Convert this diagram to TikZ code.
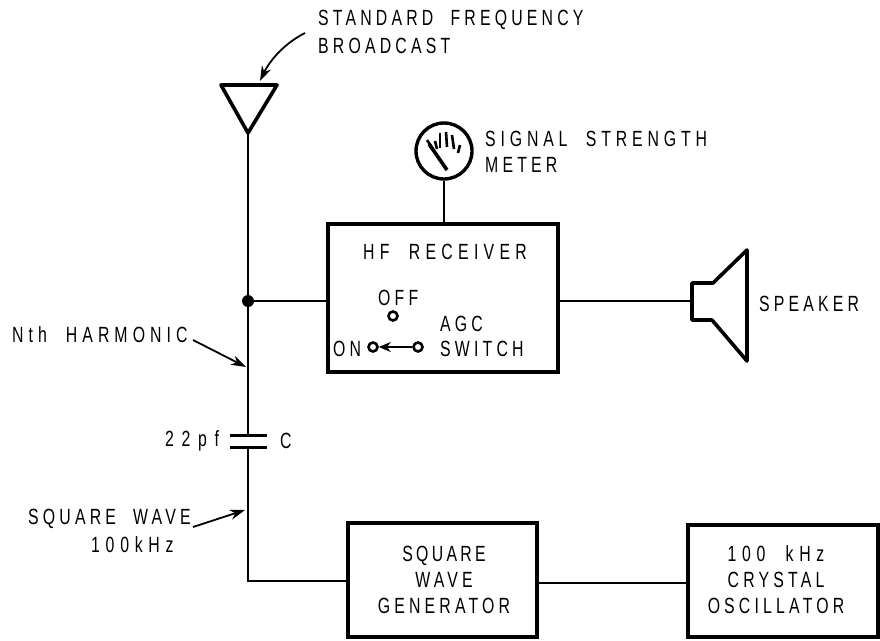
\documentclass[tikz,border=0pt]{standalone}
\usepackage{fontspec}
\setmainfont{Liberation Sans}[FakeStretch=0.72,LetterSpace=19,WordSpace=2]
\usetikzlibrary{arrows.meta,calc}
\tikzset{
  blk/.style={draw,line width=3.6pt,rectangle,inner sep=0pt,align=center,font=\lab,text=black},
  wire/.style={line width=2.4pt},
  lbl/.style={inner sep=0pt,font=\lab,align=left,text=black},
  ptr/.style={line width=1.8pt,-{Stealth[length=15pt,width=10pt]}},
  term/.style={circle,draw,line width=2.6pt,minimum size=9pt,inner sep=0pt,fill=white},
  thick2/.style={line width=3.6pt,line join=round},
}
\newcommand{\lab}{\fontsize{22}{26}\selectfont}
\newcommand{\lsp}[2]{{\addfontfeature{LetterSpace=#1}#2}}
\begin{document}
\begin{tikzpicture}[x=1pt,y=-1pt]
\useasboundingbox (0,0) rectangle (880,640);
% blocks
\node[blk,minimum width=230pt,minimum height=148pt] (rx) at (443,298) {};
\node[blk,minimum width=189pt,minimum height=114pt] (gen) at (442.5,580) {};
\node[blk,minimum width=190pt,minimum height=112pt] (osc) at (783,581) {};
\node[lbl,align=center] (gent) at (444,580) {\lsp{15}{SQUARE}\\WAVE\\GENERATOR};
\node[lbl,align=center] (osct) at (776,580) {\lsp{26}{100 kHz}\\CRYSTAL\\OSCILLATOR};
\node[lbl] (rxt) at (445,252) {\lsp{24}{HF RECEIVER}};
% antenna
\coordinate (aL) at (221,85);
\coordinate (aR) at (277,85);
\coordinate (aB) at (248,133);
\draw[thick2] (aL) -- (aR) -- (aB) -- cycle;
% junction and capacitor
\coordinate (j) at (248,301);
\coordinate (c1) at (248,435);
\coordinate (c2) at (248,447);
\coordinate (cor) at (248,581);
\coordinate (lnk) at (600,583);
\draw[wire] (aB) -- (j) -- (c1);
\draw[wire] (c2) -- (cor) -- (cor -| gen.west);
\fill (j) circle (6pt);
\draw[line width=3pt] (230,435) -- (267,435);
\draw[line width=3pt] (230,447) -- (267,447);
\draw[wire] (j) -- (j -| rx.west);
\draw[wire] (gen.east |- lnk) -- (osc.west |- lnk);
% meter
\node[circle,draw,line width=3.4pt,minimum size=56pt,inner sep=0pt] (m) at (444,151) {};
\draw[wire] (m.south) -- (m.south |- rx.north);
\draw[line width=3.6pt] (429,144) -- (447,170);
\draw[line width=2.6pt] (427,140) -- (433,149);
\draw[line width=2.6pt] (435,141) -- (437,149);
\draw[line width=2.6pt] (440,133) -- (440,148);
\draw[line width=2.6pt] (446,132) -- (447,147);
\draw[line width=2.6pt] (452,135) -- (454,149);
\draw[line width=2.6pt] (460,145) -- (458,153);
% speaker
\coordinate (s1) at (692,283);
\coordinate (s2) at (713,283);
\coordinate (s3) at (747,250);
\coordinate (s4) at (747,361);
\coordinate (s5) at (712,320);
\coordinate (s6) at (692,320);
\draw[thick2] (s1) -- (s2) -- (s3) -- (s4) -- (s5) -- (s6) -- cycle;
\draw[wire] (rx.east |- j) -- (692,301);
% switch
\node[term] (off) at (393,316) {};
\node[term] (on) at (373,347) {};
\node[term] (sw) at (418,347) {};
\draw[line width=2.4pt,-{Stealth[length=12pt,width=10pt]}] (sw) -- (on);
% labels
\node[lbl,anchor=west] (t1) at (318,20) {STANDARD FREQUENCY};
\node[lbl,anchor=west] (t2) at (318,46) {BROADCAST};
\node[lbl,anchor=west] (t3) at (485,139) {\lsp{22}{SIGNAL STRENGTH}};
\node[lbl,anchor=west] (t4) at (485,165) {METER};
\node[lbl,anchor=west] (t5) at (759,304) {SPEAKER};
\node[lbl,anchor=west] (t6) at (378,298) {OFF};
\node[lbl,anchor=west] (t7) at (440,324) {AGC};
\node[lbl,anchor=west] (t8) at (440,349) {SWITCH};
\node[lbl,anchor=west] (t9) at (333,349) {ON};
\node[lbl,anchor=west] (t10) at (12,335) {\lsp{23}{Nth HARMONIC}};
\node[lbl,anchor=west] (t11) at (165,441) {\lsp{35}{22pf}};
\node[lbl,anchor=west] (t12) at (280,441) {C};
\node[lbl,anchor=west] (t13) at (28,519) {SQUARE WAVE};
\node[lbl,anchor=west] (t14) at (91,545) {\lsp{26}{100kHz}};
% pointers
\coordinate (p1) at (305,33);
\coordinate (p1e) at (260,81);
\draw[ptr] (p1) .. controls (285,43) and (270,60) .. (p1e);
\coordinate (p2) at (193,340);
\coordinate (p2e) at (246,367);
\draw[ptr] (p2) -- (p2e);
\coordinate (p3) at (193,527);
\coordinate (p3e) at (245,510);
\draw[ptr] (p3) -- (p3e);
\end{tikzpicture}
\end{document}
